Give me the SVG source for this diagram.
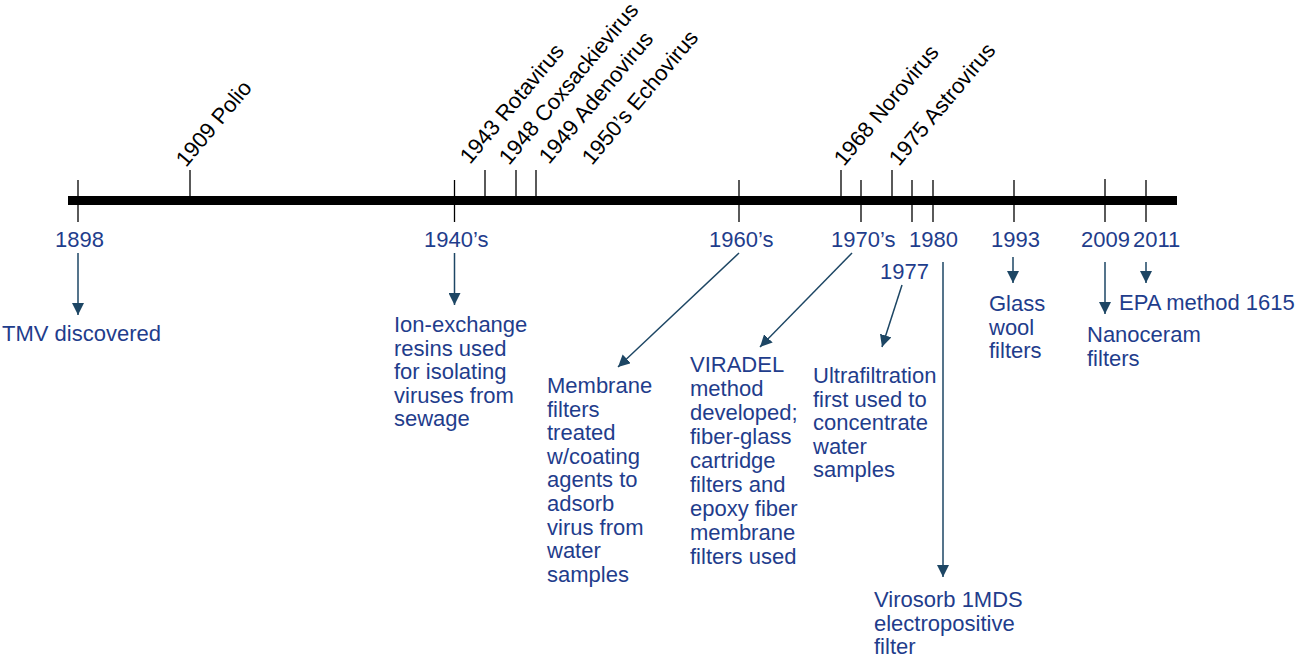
<svg xmlns="http://www.w3.org/2000/svg" width="1298" height="660" viewBox="0 0 1298 660">
<style>
.lbl{font-family:"Liberation Sans",Arial,sans-serif;font-size:22px;fill:#1f3d8c}
.vir{font-family:"Liberation Sans",Arial,sans-serif;font-size:22px;fill:#000}
.tick{stroke:#000;stroke-width:1.3}
.arr{stroke:#1d4664;stroke-width:1.5;fill:none;marker-end:url(#ah)}
</style>
<defs>
<marker id="ah" markerUnits="userSpaceOnUse" markerWidth="12" markerHeight="12" viewBox="0 0 10 10" refX="10" refY="5" orient="auto">
<path d="M0,0 L10,5 L0,10 z" fill="#1d4664"/>
</marker>
</defs>
<rect width="1298" height="660" fill="#fff"/>
<g id="axis">
<rect x="68" y="196" width="1109" height="9" fill="#000"/>
<line class="tick" x1="78" y1="180" x2="78" y2="222"/>
<line class="tick" x1="190" y1="170" x2="190" y2="200"/>
<line class="tick" x1="454.5" y1="180" x2="454.5" y2="222"/>
<line class="tick" x1="485" y1="170" x2="485" y2="200"/>
<line class="tick" x1="516" y1="170" x2="516" y2="200"/>
<line class="tick" x1="536" y1="170" x2="536" y2="200"/>
<line class="tick" x1="739" y1="180" x2="739" y2="222"/>
<line class="tick" x1="841" y1="170" x2="841" y2="200"/>
<line class="tick" x1="861" y1="180" x2="861" y2="222"/>
<line class="tick" x1="892" y1="170" x2="892" y2="200"/>
<line class="tick" x1="912" y1="180" x2="912" y2="222"/>
<line class="tick" x1="933" y1="180" x2="933" y2="222"/>
<line class="tick" x1="1014" y1="180" x2="1014" y2="222"/>
<line class="tick" x1="1105" y1="179" x2="1105" y2="222"/>
<line class="tick" x1="1146" y1="180" x2="1146" y2="222"/>
</g>
<g id="viruses">
<text class="vir" transform="translate(186,168) rotate(-50)">1909 Polio</text>
<text class="vir" transform="translate(470,165) rotate(-50)">1943 Rotavirus</text>
<text class="vir" transform="translate(509,166) rotate(-50)">1948 Coxsackievirus</text>
<text class="vir" transform="translate(549,165) rotate(-50)">1949 Adenovirus</text>
<text class="vir" transform="translate(592,166) rotate(-50)">1950’s Echovirus</text>
<text class="vir" transform="translate(844,167) rotate(-50)">1968 Norovirus</text>
<text class="vir" transform="translate(899,167) rotate(-50)">1975 Astrovirus</text>
</g>
<g id="years">
<text class="lbl" x="55" y="247">1898</text>
<text class="lbl" x="424" y="247">1940’s</text>
<text class="lbl" x="709" y="247">1960’s</text>
<text class="lbl" x="831" y="247">1970’s</text>
<text class="lbl" x="909" y="247">1980</text>
<text class="lbl" x="880" y="279">1977</text>
<text class="lbl" x="991" y="247">1993</text>
<text class="lbl" x="1081" y="247">2009</text>
<text class="lbl" x="1133" y="247">2011</text>
</g>
<g id="connectors">
<line class="arr" x1="78" y1="253" x2="78" y2="315"/>
<line class="arr" x1="454.5" y1="253" x2="454.5" y2="305"/>
<line class="arr" x1="739" y1="253" x2="618" y2="367"/>
<line class="arr" x1="852" y1="253" x2="760" y2="347"/>
<line class="arr" x1="902" y1="285" x2="882" y2="347"/>
<line class="arr" x1="943" y1="262" x2="943" y2="577"/>
<line class="arr" x1="1013" y1="257" x2="1013" y2="283"/>
<line class="arr" x1="1105" y1="262" x2="1105" y2="314"/>
<line class="arr" x1="1146" y1="262" x2="1146" y2="283"/>
</g>
<g id="tmv"><text class="lbl" x="2" y="341">TMV discovered</text></g>
<g id="ion">
<text class="lbl" x="394" y="332">Ion-exchange</text>
<text class="lbl" x="394" y="355.5">resins used</text>
<text class="lbl" x="394" y="379">for isolating</text>
<text class="lbl" x="394" y="402.5">viruses from</text>
<text class="lbl" x="394" y="426">sewage</text>
</g>
<g id="membrane">
<text class="lbl" x="547" y="393">Membrane</text>
<text class="lbl" x="547" y="416.6">filters</text>
<text class="lbl" x="547" y="440.2">treated</text>
<text class="lbl" x="547" y="463.8">w/coating</text>
<text class="lbl" x="547" y="487.4">agents to</text>
<text class="lbl" x="547" y="511">adsorb</text>
<text class="lbl" x="547" y="534.6">virus from</text>
<text class="lbl" x="547" y="558.2">water</text>
<text class="lbl" x="547" y="581.8">samples</text>
</g>
<g id="viradel">
<text class="lbl" x="690" y="372">VIRADEL</text>
<text class="lbl" x="690" y="396">method</text>
<text class="lbl" x="690" y="420">developed;</text>
<text class="lbl" x="690" y="444">fiber-glass</text>
<text class="lbl" x="690" y="468">cartridge</text>
<text class="lbl" x="690" y="492">filters and</text>
<text class="lbl" x="690" y="516">epoxy fiber</text>
<text class="lbl" x="690" y="540">membrane</text>
<text class="lbl" x="690" y="564">filters used</text>
</g>
<g id="ultra">
<text class="lbl" x="813" y="383">Ultrafiltration</text>
<text class="lbl" x="813" y="406.5">first used to</text>
<text class="lbl" x="813" y="430">concentrate</text>
<text class="lbl" x="813" y="453.5">water</text>
<text class="lbl" x="813" y="477">samples</text>
</g>
<g id="virosorb">
<text class="lbl" x="874" y="607">Virosorb 1MDS</text>
<text class="lbl" x="874" y="630.5">electropositive</text>
<text class="lbl" x="874" y="654">filter</text>
</g>
<g id="glass">
<text class="lbl" x="989" y="311">Glass</text>
<text class="lbl" x="989" y="334.5">wool</text>
<text class="lbl" x="989" y="358">filters</text>
</g>
<g id="epa"><text class="lbl" x="1119" y="310">EPA method 1615</text></g>
<g id="nanoceram">
<text class="lbl" x="1087" y="342">Nanoceram</text>
<text class="lbl" x="1087" y="365.5">filters</text>
</g>
</svg>
